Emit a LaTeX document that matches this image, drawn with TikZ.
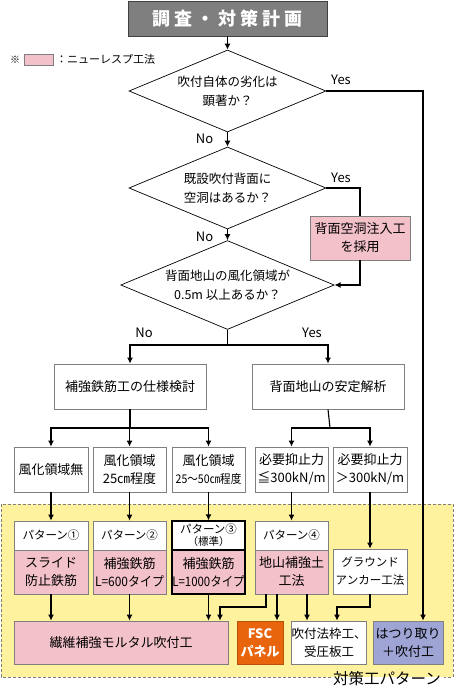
\documentclass[tikz,border=0pt]{standalone}
\usepackage{fontspec}
\setmainfont{Noto Sans CJK JP}
\usetikzlibrary{shapes.geometric,arrows.meta,calc}
\definecolor{pinkc}{HTML}{F3C1C9}
\definecolor{yellowc}{HTML}{FFF29E}
\definecolor{orangec}{HTML}{E8650E}
\definecolor{bluec}{HTML}{9EA5D5}
\definecolor{bordergray}{HTML}{7F7F7F}
\definecolor{titlegray}{HTML}{7F7F7F}
\newcommand{\fz}[2]{\fontsize{#1pt}{#2pt}\selectfont}
\begin{document}
\begin{tikzpicture}[x=1pt,y=-1pt,
  box/.style={draw=bordergray, line width=0.8pt, fill=white, inner sep=0pt, align=center, font=\fz{13}{18}},
  pbox/.style={box, fill=pinkc},
  hdr/.style={box, font=\fz{11.5}{13}},
  dia/.style={draw, line width=0.7pt, diamond, aspect=2.4, inner sep=0pt, minimum width=197pt, minimum height=82pt, align=center, font=\fz{12.5}{19}},
  conn/.style={line width=1.1pt, -{Latex[length=6pt,width=6pt]}},
  plain/.style={line width=1.1pt},
  lbl/.style={font=\fz{13}{15}, inner sep=0pt}]
\useasboundingbox (0,0) rectangle (456,688);
% yellow region
\fill[yellowc] (1,504) rectangle (453,677);
\draw[bordergray, line width=0.8pt, dash pattern=on 3pt off 2pt]
  (331,677) -- (1,677) -- (1,504) -- (453,504) -- (453,677) -- (444,677);
\node[font=\fz{15.5}{17}, inner sep=0pt] (region) at (387,679) {対策工パターン};
% title
\node[draw=black!75, line width=0.8pt, fill=titlegray, text=white, minimum width=199pt, minimum height=35pt, inner sep=0pt, font=\fz{18}{20}\bfseries]
  (title) at (227.5,18.5) {調\kern4pt 査\kern4pt ・\kern4pt 対\kern4pt 策\kern4pt 計\kern4pt 画};
% legend
\node[font=\fz{10}{12}, inner sep=0pt] (kome) at (15,59.5) {※};
\node[draw=bordergray, line width=0.6pt, fill=pinkc, minimum width=29pt, minimum height=11pt, inner sep=0pt] (legend) at (38.5,59.5) {};
\node[font=\fz{11}{13}, inner sep=0pt, anchor=west] (legtext) at (56,59.5) {：ニューレスプ工法};
% diamonds
\node[dia] (d1) at (227.5,91) {\raisebox{-4pt}{\parbox{120pt}{\centering 吹付自体の劣化は\\顕著か？}}};
\node[dia] (d2) at (227.5,188) {\raisebox{-2pt}{\parbox{120pt}{\centering 既設吹付背面に\\空洞はあるか？}}};
\node[dia] (d3) at (227.5,285) {\raisebox{-2pt}{\parbox{140pt}{\centering 背面地山の風化領域が\\0.5m 以上あるか？}}};
% cavity box
\node[pbox, minimum width=100pt, minimum height=44pt] (cav) at (360,238) {背面空洞注入工\\を採用};
% second level
\node[box, minimum width=152pt, minimum height=45pt] (spec) at (130,386.5) {補強鉄筋工の仕様検討};
\node[box, minimum width=152pt, minimum height=45pt] (stab) at (328,386.5) {背面地山の安定解析};
% third level
\node[box, minimum width=74pt, minimum height=45pt] (r1) at (51,469.5) {風化領域無};
\node[box, minimum width=73pt, minimum height=45pt] (r2) at (129.5,469.5) {風化領域\\25㎝程度};
\node[box, minimum width=73pt, minimum height=45pt] (r3) at (208.5,469.5) {風化領域\\\scalebox{0.88}[1]{\fz{12}{18}25～50㎝程度}};
\node[box, minimum width=73pt, minimum height=45pt] (r4) at (291.5,469.5) {必要抑止力\\≦300kN/m};
\node[box, minimum width=74pt, minimum height=45pt] (r5) at (370,469.5) {必要抑止力\\＞300kN/m};
% pattern headers
\node[hdr, minimum width=74pt, minimum height=29pt] (h1) at (51,535.5) {パターン①};
\node[hdr, minimum width=73pt, minimum height=29pt] (h2) at (129.5,535.5) {パターン②};
\node[hdr, draw=black, line width=1.3pt, minimum width=73pt, minimum height=29pt] (h3) at (208.5,535.5) {パターン③\\[-1pt]{\fz{10.5}{12}（標準）}};
\node[hdr, minimum width=73pt, minimum height=29pt] (h4) at (291.5,535.5) {パターン④};
% pattern bodies
\node[pbox, minimum width=74pt, minimum height=44pt] (b1) at (51,572) {スライド\\防止鉄筋};
\node[pbox, minimum width=73pt, minimum height=44pt] (b2) at (129.5,572) {補強鉄筋\\\scalebox{0.92}[1]{L=600タイプ}};
\node[pbox, draw=black, line width=1.3pt, minimum width=73pt, minimum height=44pt] (b3) at (208.5,572) {補強鉄筋\\\scalebox{0.88}[1]{L=1000タイプ}};
\node[pbox, minimum width=73pt, minimum height=44pt] (b4) at (291.5,572) {地山補強土\\工法};
\node[box, minimum width=74pt, minimum height=45pt, font=\fz{11.5}{18}] (anc) at (370,571.5) {グラウンド\\アンカー工法};
% bottom row
\node[pbox, minimum width=214pt, minimum height=43pt] (mort) at (121,642.5) {繊維補強モルタル吹付工};
\node[box, fill=orangec, draw=orangec!80!black, text=white, minimum width=46pt, minimum height=43pt, font=\fz{13}{18}\bfseries] (fsc) at (260,642.5) {FSC\\パネル};
\node[box, minimum width=74pt, minimum height=43pt, font=\fz{12.5}{18}] (frame) at (329,642.5) {吹付法枠工、\\受圧板工};
\node[box, fill=bluec, minimum width=70pt, minimum height=43pt] (hatsu) at (408,642.5) {はつり取り\\＋吹付工};
% labels
\node[lbl] (y1) at (341,80) {Yes};
\node[lbl] (n1) at (204.5,139) {No};
\node[lbl] (y2) at (341,178) {Yes};
\node[lbl] (n2) at (204.5,237) {No};
\node[lbl] (n3) at (144,333) {No};
\node[lbl] (y3) at (312,333) {Yes};
% helper coordinates
\coordinate (c1) at (423,91);
\coordinate (c2) at (360,188);
\coordinate (j1) at (227.5,345);
\coordinate (j2) at (130,428);
\coordinate (j3) at (330,428);
\coordinate (k1) at (266,607);
\coordinate (k2) at (220,607);
\coordinate (k3) at (277,0);
\coordinate (k4) at (307,0);
\coordinate (k5) at (370,607);
\coordinate (k6) at (337,607);
% connectors
\draw[conn] (title.south) -- (d1.north);
\draw[conn] (d1.east) -- (c1) -- (hatsu.north -| c1);
\draw[conn] (d1.south) -- (d2.north);
\draw[plain] (d2.east) -- (c2) -- (cav.north);
\draw[conn] (cav.south) -- (cav.south |- d3.east) -- (d3.east);
\draw[conn] (d2.south) -- (d3.north);
\draw[plain] (d3.south) -- (j1);
\draw[conn] (j1) -| (spec.north);
\draw[conn] (j1) -| (stab.north);
\draw[plain] (spec.south) -- (j2);
\draw[conn] (j2) -| (r1.north);
\draw[conn] (j2) -| (r2.north);
\draw[conn] (j2) -| (r3.north);
\draw[plain] (stab.south) -- (j3);
\draw[conn] (j3) -| (r4.north);
\draw[conn] (j3) -| (r5.north);
\draw[conn] (r1.south) -- (h1.north);
\draw[conn] (r2.south) -- (h2.north);
\draw[conn] (r3.south) -- (h3.north);
\draw[conn] (r4.south) -- (h4.north);
\draw[conn] (r5.south) -- (anc.north);
\draw[conn] (b1.south) -- (mort.north -| b1.south);
\draw[conn] (b2.south) -- (mort.north -| b2.south);
\draw[conn] (b3.south) -- (mort.north -| b3.south);
\draw[conn] (b4.south -| k1) -- (k1) -- (k2) -- (mort.north -| k2);
\draw[conn] (b4.south -| k3) -- (fsc.north -| k3);
\draw[conn] (b4.south -| k4) -- (frame.north -| k4);
\draw[conn] (anc.south -| k5) -- (k5) -- (k6) -- (frame.north -| k6);
\end{tikzpicture}
\end{document}
